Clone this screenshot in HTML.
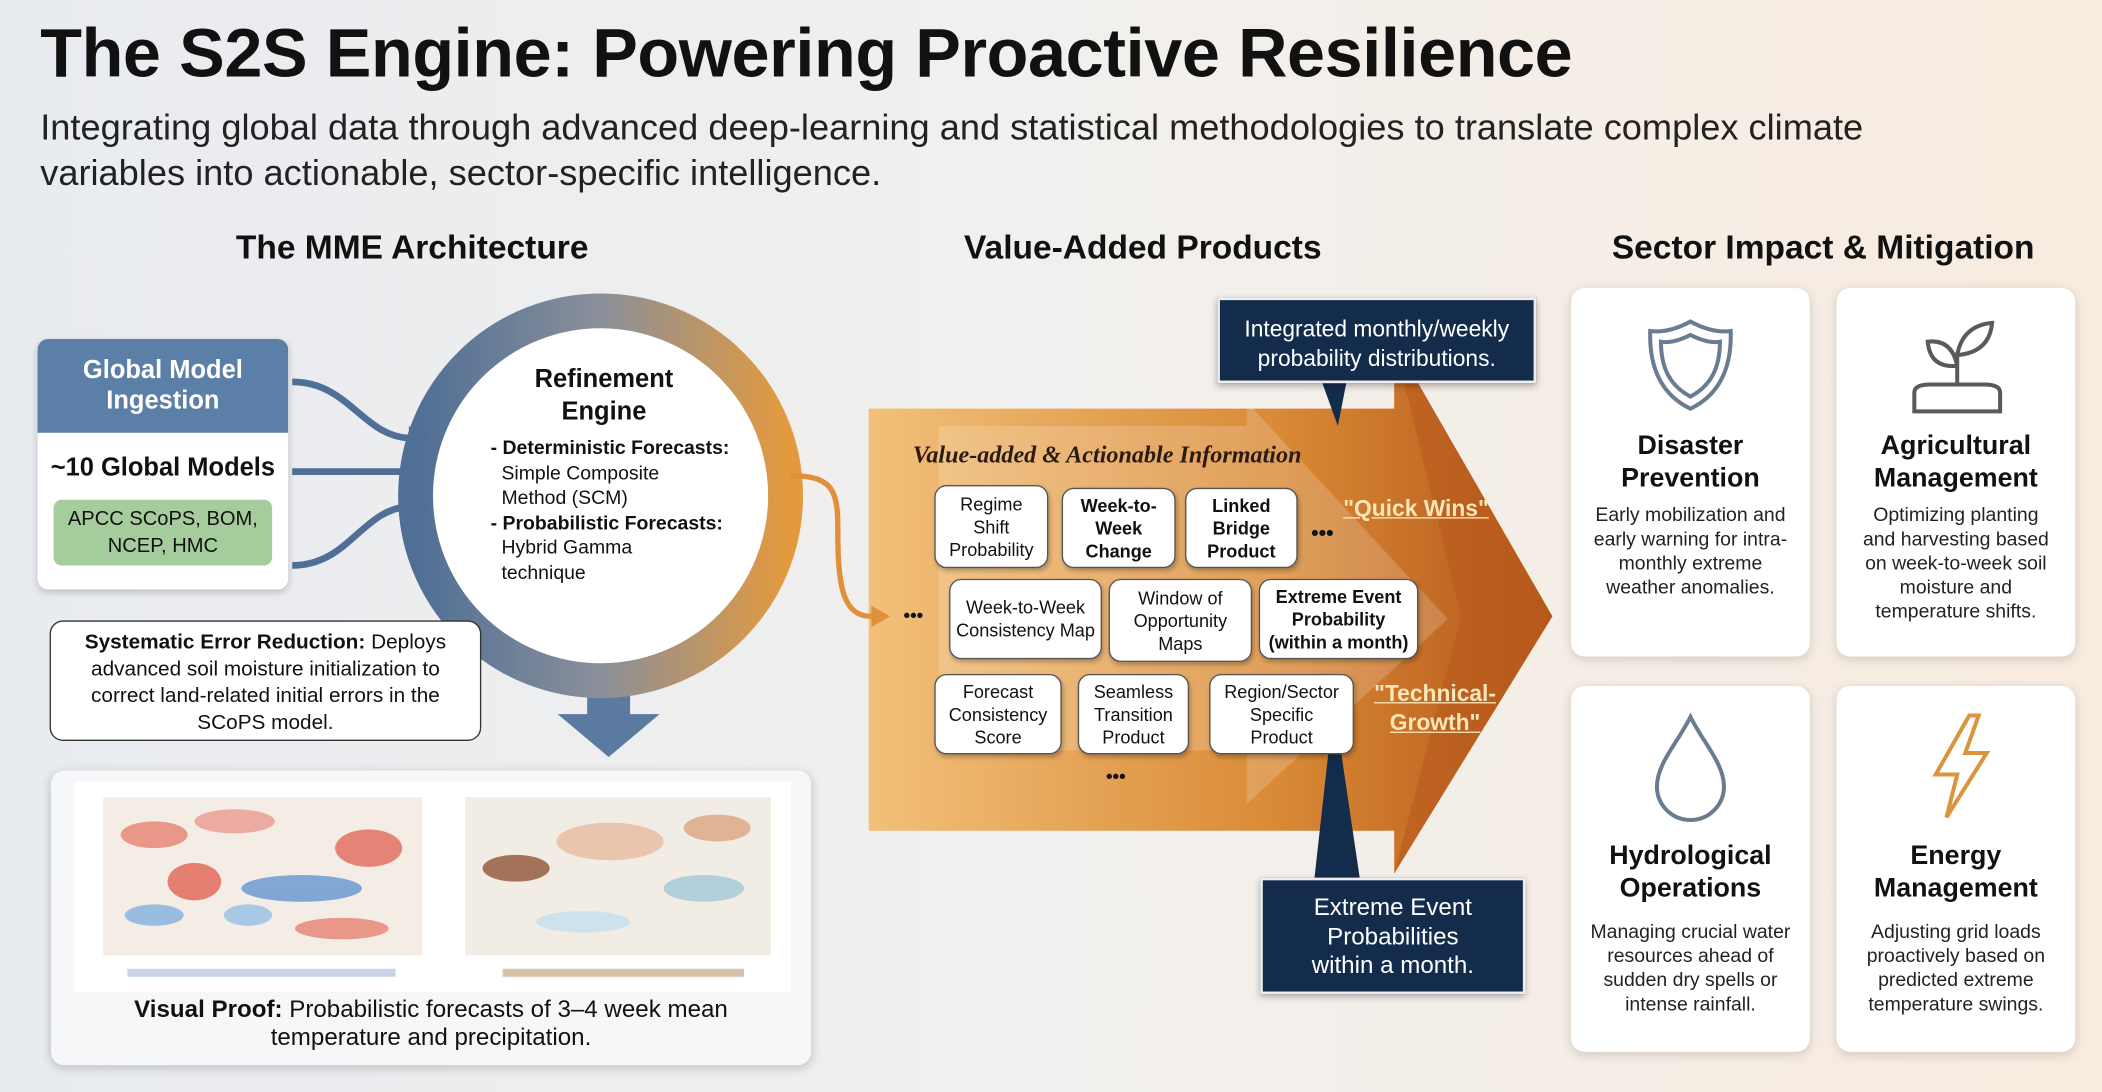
<!DOCTYPE html>
<html><head><meta charset="utf-8">
<style>
html,body{margin:0;padding:0;width:2102px;height:1092px;overflow:hidden;background:#f3ede6}
#s{position:absolute;left:0;top:0;width:1568px;height:815px;transform:scale(1.34056,1.3399);transform-origin:0 0;
background:linear-gradient(90deg,#e8ebf0 0%,#f2f0ee 50%,#f8ebdf 100%);font-family:"Liberation Sans",sans-serif;color:#111}
.a{position:absolute}
.h{font-weight:bold;font-size:25px;text-align:center}
.pb{position:absolute;background:#fff;border:1.5px solid #555;border-radius:9px;text-align:center;font-family:"Liberation Sans",sans-serif;font-size:13.5px;line-height:17px;display:flex;align-items:center;justify-content:center;box-shadow:1px 2px 3px rgba(0,0,0,.25)}
.card{position:absolute;background:#fff;border-radius:10px;box-shadow:0 2px 8px rgba(0,0,0,.15);text-align:center;width:178px}
.card .t{position:absolute;left:0;right:0;font-weight:bold;font-size:20px;line-height:24px}
.card .d{position:absolute;left:14px;right:14px;font-size:14.5px;line-height:18px;color:#222}
.nv{position:absolute;background:#142c4c;color:#fff;text-align:center;border:2px solid #eee;box-shadow:0 2px 5px rgba(0,0,0,.3)}
</style></head><body><div id="s">
<div class="a" style="left:30px;top:10px;font-size:51px;font-weight:bold;letter-spacing:-0.3px">The S2S Engine: Powering Proactive Resilience</div>
<div class="a" style="left:30px;top:78px;font-size:27px;line-height:34px;color:#222;width:1440px">Integrating global data through advanced deep-learning and statistical methodologies to translate complex climate variables into actionable, sector-specific intelligence.</div>
<div class="a h" style="left:140px;top:171px;width:335px">The MME Architecture</div>
<div class="a h" style="left:680px;top:171px;width:345px">Value-Added Products</div>
<div class="a h" style="left:1180px;top:171px;width:360px">Sector Impact &amp; Mitigation</div>

<svg class="a" style="left:0;top:0" width="1568" height="815">
<defs>
<linearGradient id="rg" x1="0" x2="1"><stop offset="0" stop-color="#4f6f96"/><stop offset="0.5" stop-color="#8a8f9a"/><stop offset="1" stop-color="#e39a3e"/></linearGradient>
<linearGradient id="og" x1="0" x2="1"><stop offset="0" stop-color="#f2c07a"/><stop offset="0.6" stop-color="#d98a36"/><stop offset="1" stop-color="#b4561a"/></linearGradient>
</defs>
<!-- big down arrow -->
<path d="M438 478 h32 v55 h22 l-38 32 l-38 -32 h22z" fill="#5a7aa0"/>
<!-- ring -->
<circle cx="448" cy="370" r="138" fill="#fff" stroke="url(#rg)" stroke-width="26"/>
<!-- input arrows -->
<g stroke="#4f6f96" stroke-width="5" fill="none">
<path d="M218 285 C260 285 270 325 305 327"/>
<path d="M218 352 L305 352"/>
<path d="M218 422 C260 422 270 380 305 378"/>
</g>
<g fill="#4f6f96"><path d="M320 327 l-15 -9 v18z"/><path d="M320 352 l-15 -9 v18z"/><path d="M320 378 l-15 -9 v18z"/></g>
<!-- orange arrow -->
<path d="M648 305 H1040 V255 L1158 460 L1040 652 V620 H648 Z" fill="url(#og)"/>
<path d="M1040 255 L1158 460 L1040 652 L1090 460Z" fill="#b85a1c" opacity=".6"/>
<path d="M700 318 H930 V300 L1080 462 L930 600 V560 H700Z" fill="#fff" opacity=".18"/>
<!-- orange connector -->
<path d="M590 355 C625 355 625 370 625 400 C625 440 630 460 650 460" stroke="#e0903a" stroke-width="4" fill="none"/>
<path d="M664 460 l-14 -8 v16z" fill="#e0903a"/>
<!-- callout pointers -->
<path d="M985 282 L1005 282 L998 318Z" fill="#142c4c"/>
<path d="M980 660 L1015 660 L995 525Z" fill="#142c4c"/>
</svg>

<!-- global model box -->
<div class="a" style="left:28px;top:253px;width:187px;height:187px;background:#fff;border-radius:8px;box-shadow:0 2px 6px rgba(0,0,0,.2);overflow:hidden">
<div style="background:#5b7fa6;height:70px;color:#fff;font-weight:bold;font-size:19px;text-align:center;line-height:23px;padding-top:12px;box-sizing:border-box">Global Model<br>Ingestion</div>
<div style="text-align:center;font-weight:bold;font-size:19px;margin-top:16px">~10 Global Models</div>
<div style="margin:12px 12px 0;background:#a5cc9c;border-radius:6px;height:49px;font-size:15px;line-height:20px;text-align:center;padding-top:5px;box-sizing:border-box">APCC SCoPS, BOM,<br>NCEP, HMC</div>
</div>
<!-- refinement text -->
<div class="a" style="left:368px;top:272px;width:165px;text-align:center;font-weight:bold;font-size:19px;line-height:24px">Refinement<br>Engine</div>
<div class="a" style="left:366px;top:326px;width:200px;font-size:14.5px;line-height:18.5px">
<b>- Deterministic Forecasts:</b><br>&nbsp;&nbsp;Simple Composite<br>&nbsp;&nbsp;Method (SCM)<br><b>- Probabilistic Forecasts:</b><br>&nbsp;&nbsp;Hybrid Gamma<br>&nbsp;&nbsp;technique</div>
<!-- error box -->
<div class="a" style="left:37px;top:463px;width:322px;height:90px;background:#fff;border:1.5px solid #333;border-radius:10px;font-size:15.5px;line-height:20px;text-align:center;padding:6px 14px 0;box-sizing:border-box"><b>Systematic Error Reduction:</b> Deploys advanced soil moisture initialization to correct land-related initial errors in the SCoPS model.</div>
<!-- map card -->
<div class="a" style="left:38px;top:575px;width:567px;height:220px;background:#f6f7f8;border-radius:10px;box-shadow:0 2px 8px rgba(0,0,0,.2)">
<svg class="a" style="left:17px;top:8px" width="535" height="157">
<rect x="0" y="0" width="535" height="157" fill="#fff"/>
<rect x="22" y="12" width="238" height="118" fill="#f4ede6"/>
<rect x="292" y="12" width="228" height="118" fill="#f1ece4"/>
<g opacity=".75">
<ellipse cx="60" cy="40" rx="25" ry="10" fill="#e67a6a"/><ellipse cx="120" cy="30" rx="30" ry="9" fill="#e8948a"/>
<ellipse cx="170" cy="80" rx="45" ry="10" fill="#5b8fd0"/><ellipse cx="90" cy="75" rx="20" ry="14" fill="#e05a4a"/>
<ellipse cx="220" cy="50" rx="25" ry="14" fill="#e06050"/><ellipse cx="60" cy="100" rx="22" ry="8" fill="#7aaee0"/>
<ellipse cx="200" cy="110" rx="35" ry="8" fill="#e57b6b"/><ellipse cx="130" cy="100" rx="18" ry="8" fill="#8fbce6"/>
<ellipse cx="330" cy="65" rx="25" ry="10" fill="#8a4a2a"/><ellipse cx="400" cy="45" rx="40" ry="14" fill="#e5b89a"/>
<ellipse cx="470" cy="80" rx="30" ry="10" fill="#9cc6d8"/><ellipse cx="380" cy="105" rx="35" ry="8" fill="#c0dff0"/>
<ellipse cx="480" cy="35" rx="25" ry="10" fill="#d9a07a"/>
</g>
<rect x="40" y="140" width="200" height="6" fill="#c6d4e6"/><rect x="320" y="140" width="180" height="6" fill="#d8c2aa"/>
</svg>
<div class="a" style="left:0;top:168px;width:567px;text-align:center;font-size:18px;line-height:21px"><b>Visual Proof:</b> Probabilistic forecasts of 3–4 week mean<br>temperature and precipitation.</div>
</div>

<!-- products -->
<div class="a" style="left:681px;top:329px;font-family:'Liberation Serif',serif;font-style:italic;font-weight:bold;font-size:18px;color:#2a1a10">Value-added &amp; Actionable Information</div>
<div class="pb" style="left:697px;top:362px;width:83px;height:60px">Regime<br>Shift<br>Probability</div>
<div class="pb" style="left:792px;top:364px;width:83px;height:58px;font-weight:bold">Week-to-<br>Week<br>Change</div>
<div class="pb" style="left:884px;top:364px;width:82px;height:58px;font-weight:bold">Linked<br>Bridge<br>Product</div>
<div class="a" style="left:978px;top:390px;font-weight:bold;font-size:16px">•••</div>
<div class="pb" style="left:708px;top:432px;width:112px;height:58px">Week-to-Week<br>Consistency Map</div>
<div class="pb" style="left:827px;top:432px;width:105px;height:60px">Window of<br>Opportunity<br>Maps</div>
<div class="pb" style="left:939px;top:432px;width:117px;height:58px;font-weight:bold">Extreme Event<br>Probability<br>(within a month)</div>
<div class="a" style="left:674px;top:451px;font-weight:bold;font-size:14px">•••</div>
<div class="pb" style="left:697px;top:503px;width:93px;height:58px">Forecast<br>Consistency<br>Score</div>
<div class="pb" style="left:804px;top:503px;width:81px;height:58px">Seamless<br>Transition<br>Product</div>
<div class="pb" style="left:902px;top:503px;width:106px;height:58px">Region/Sector<br>Specific<br>Product</div>
<div class="a" style="left:825px;top:571px;font-weight:bold;font-size:14px">•••</div>
<div class="a" style="left:1002px;top:370px;font-weight:bold;font-size:17px;color:#fbe6b8;text-decoration:underline">"Quick Wins"</div>
<div class="a" style="left:1023px;top:507px;width:95px;text-align:center;font-weight:bold;font-size:17px;line-height:22px;color:#fbe6b8;text-decoration:underline">"Technical-<br>Growth"</div>
<div class="nv" style="left:908px;top:222px;width:238px;height:64px;font-size:17px;line-height:22px;padding-top:11px;box-sizing:border-box">Integrated monthly/weekly<br>probability distributions.</div>
<div class="nv" style="left:940px;top:655px;width:198px;height:87px;font-size:18px;line-height:21.5px;padding-top:10px;box-sizing:border-box">Extreme Event<br>Probabilities<br>within a month.</div>

<!-- sector cards -->
<div class="card" style="left:1172px;top:215px;height:275px">
<svg class="a" style="left:54px;top:20px" width="70" height="75"><path d="M35 5 C48 12 58 13 65 12 C66 40 56 60 35 70 C14 60 4 40 5 12 C12 13 22 12 35 5Z M35 15 C45 20 52 21 57 20 C57 40 50 53 35 61 C20 53 13 40 13 20 C18 21 25 20 35 15Z" fill="none" stroke="#6a7c90" stroke-width="3"/></svg>
<div class="t" style="top:106px">Disaster<br>Prevention</div>
<div class="d" style="top:161px">Early mobilization and early warning for intra-monthly extreme weather anomalies.</div></div>
<div class="card" style="left:1370px;top:215px;height:275px">
<svg class="a" style="left:50px;top:20px" width="80" height="75"><path d="M8 72 V58 Q8 52 20 52 H60 Q72 52 72 58 V72Z M40 52 V28 M40 38 Q20 40 18 20 Q36 18 40 38 M40 30 Q44 8 66 6 Q64 28 40 30" fill="none" stroke="#5a5a5a" stroke-width="3"/></svg>
<div class="t" style="top:106px">Agricultural<br>Management</div>
<div class="d" style="top:161px">Optimizing planting and harvesting based on week-to-week soil moisture and temperature shifts.</div></div>
<div class="card" style="left:1172px;top:512px;height:273px">
<svg class="a" style="left:54px;top:18px" width="70" height="85"><path d="M35 5 C45 25 60 40 60 57 A25 25 0 0 1 10 57 C10 40 25 25 35 5Z" fill="none" stroke="#6a7c90" stroke-width="3"/></svg>
<div class="t" style="top:115px">Hydrological<br>Operations</div>
<div class="d" style="top:175px">Managing crucial water resources ahead of sudden dry spells or intense rainfall.</div></div>
<div class="card" style="left:1370px;top:512px;height:273px">
<svg class="a" style="left:54px;top:18px" width="70" height="85"><path d="M45 4 L20 48 H36 L28 80 L58 32 H42 L52 4Z" fill="none" stroke="#d9953e" stroke-width="3"/></svg>
<div class="t" style="top:115px">Energy<br>Management</div>
<div class="d" style="top:175px">Adjusting grid loads proactively based on predicted extreme temperature swings.</div></div>
</div></body></html>
